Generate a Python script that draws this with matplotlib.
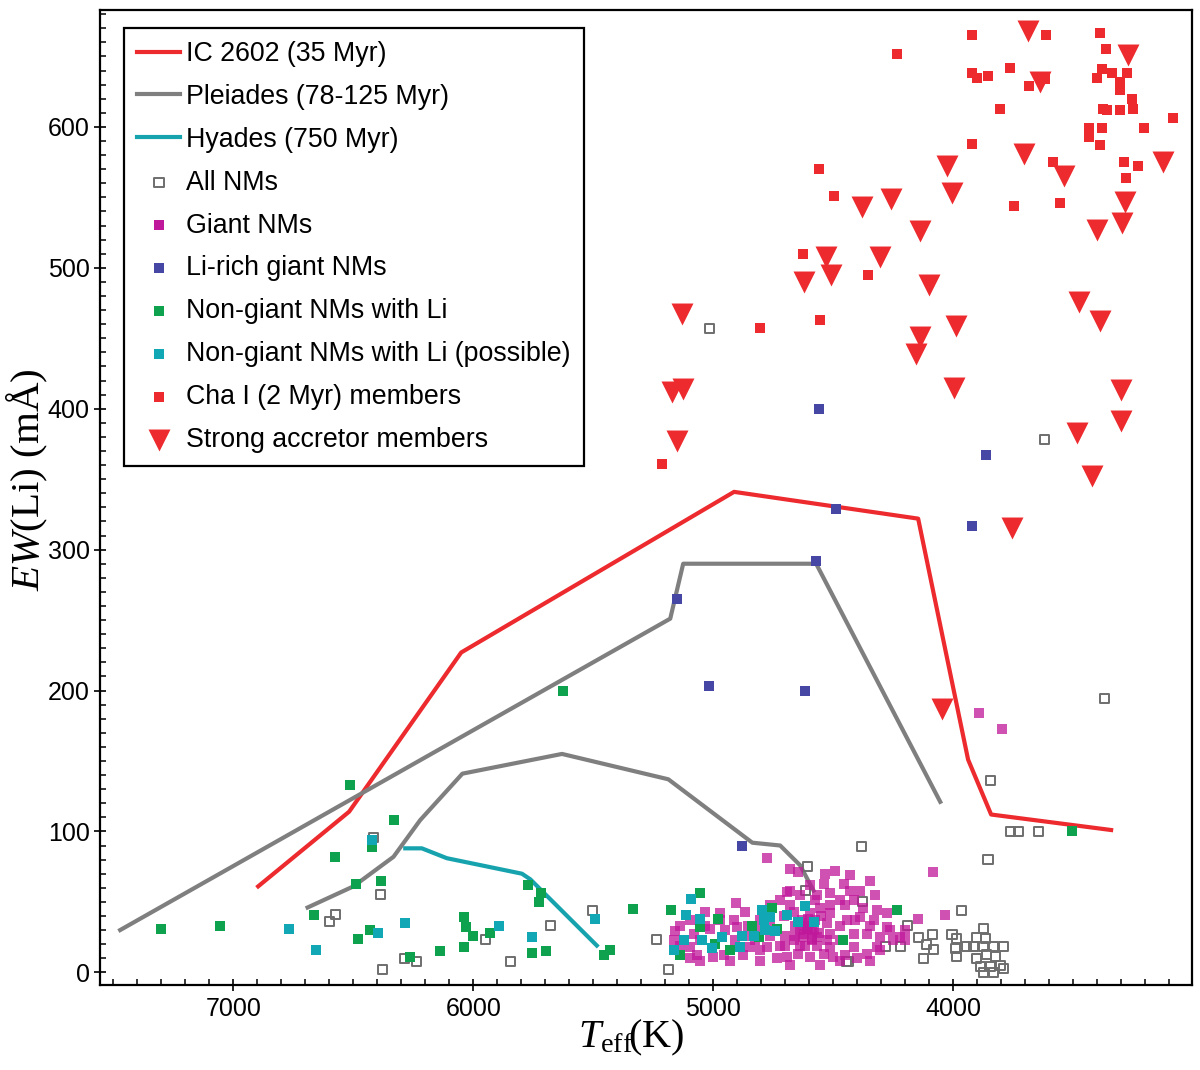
import numpy as np
import matplotlib
matplotlib.use("Agg")
import matplotlib.pyplot as plt
from matplotlib.ticker import MultipleLocator

plt.rcParams['font.family'] = ['Liberation Sans', 'DejaVu Sans']
plt.rcParams['mathtext.fontset'] = 'custom'
plt.rcParams['mathtext.rm'] = 'Liberation Serif'
plt.rcParams['mathtext.it'] = 'Liberation Serif:italic'

# cluster sequences: Teff (K), EW(Li) (mA)
ic2602_t = [6896, 6517, 6050, 4913, 4146, 3938, 3842, 3342]
ic2602_ew = [61, 114, 227, 341, 322, 151, 112, 101]

pleiades_up_t = [7471, 5179, 5125, 4571, 4054]
pleiades_up_ew = [30, 251, 290, 290, 121]
pleiades_lo_t = [6690, 6499, 6332, 6221, 6045, 5630, 5187, 4837, 4721, 4638, 4582]
pleiades_lo_ew = [46, 61, 82, 108, 141, 155, 137, 92, 90, 76, 58]

hyades_t = [6283, 6214, 6110, 5797, 5762, 5485]
hyades_ew = [88, 88, 81, 70, 66, 19]

# all NMs (open squares)
nm_t = [5017, 3621, 3370, 3846, 3762, 3729, 3646, 3855, 4383, 3964, 4607, 4614, 4443,
        4189, 4378, 4145, 4085, 4110, 4082, 4124, 4283, 4218, 4436, 4005, 3985, 3992,
        3985, 3943, 3874, 3901, 3867, 3915, 3874, 3832, 3790, 3901, 3860, 3825, 3888,
        3846, 3804, 3874, 3832, 3790, 6415, 6385, 6572, 6600, 5950, 5679, 5503, 6376,
        6287, 6237, 5846, 5235, 5186]
nm_ew = [457, 378, 194, 136, 100, 100, 100, 80, 89, 44, 75, 58, 8,
         33, 50, 25, 27, 20, 16, 10, 18, 18, 8, 27, 24, 17,
         11, 18, 31, 25, 24, 18, 18, 18, 18, 10, 13, 11, 4,
         4, 5, 0, 0, 3, 96, 55, 41, 36, 23, 33, 44, 2,
         10, 8, 8, 23, 2]

# giant NMs
giant_t = [4776, 4679, 4645, 4693, 4904, 5033, 4971, 4867, 4915, 4679, 4707, 4665, 5158,
           5082, 5012, 4950, 4901, 4853, 5165, 5096, 5068, 4999, 4957, 4874, 4846, 4776,
           4721, 4665, 4624, 4568, 4735, 4693, 4645, 4596, 4540, 4568, 4533, 4540, 4554,
           4526, 4596, 4526, 4346, 4086, 4457, 4429, 4512, 4471, 4415, 4374, 4318, 4276,
           4512, 4443, 4387, 4332, 4276, 4221, 4512, 4415, 4360, 4304, 4249, 4512, 4415,
           4360, 4318, 4499, 4401, 4145, 4033, 4617, 4587, 4637, 4604, 4658, 4575, 4700,
           4762, 4804, 4637, 4700, 4567, 4471, 4450, 4804, 4825, 5054, 5137, 3892, 3797,
           4610, 4620, 4600, 4590, 4630, 4580, 4560, 4550,
           5137, 5096, 5033, 4971, 4908, 4846, 4804, 4762, 5054, 4929, 4804, 5096,
           4679, 4637, 4596, 4492, 4429, 4387, 4325, 4721, 4762, 4471, 4408, 4346,
           4262, 4200, 4471, 4346, 4554, 4679, 4304, 4200, 4575, 4512, 4450, 4617,
           4587, 4658, 4604]
giant_ew = [81, 73, 71, 57, 49, 43, 42, 43, 37, 48, 40, 43, 29,
            27, 31, 30, 32, 33, 23, 18, 12, 11, 12, 12, 18, 18,
            19, 23, 25, 25, 10, 11, 13, 11, 13, 55, 70, 63, 46,
            35, 42, 23, 65, 71, 63, 58, 56, 51, 51, 46, 44, 42,
            42, 37, 39, 37, 32, 25, 27, 27, 27, 25, 23, 18, 18,
            13, 18, 11, 10, 38, 41, 33, 30, 30, 38, 33, 37, 26,
            26, 30, 19, 19, 19, 23, 12, 16, 23, 23, 19, 184, 173,
            31, 27, 35, 24, 37, 30, 28, 40,
            33, 37, 33, 37, 23, 26, 37, 33, 8, 8, 8, 10,
            58, 55, 62, 72, 69, 58, 55, 51, 48, 33, 37, 33,
            30, 23, 8, 8, 5, 5, 16, 30, 51, 48, 48, 19,
            23, 26, 31]

# Li-rich giant NMs
lirich_t = [4561, 3864, 3920, 4487, 5150, 4571, 5017, 4617, 4879]
lirich_ew = [400, 367, 317, 329, 265, 292, 203, 200, 90]

# non-giant NMs with Li
li_t = [7300, 7057, 6515, 6332, 6574, 6422, 6489, 6385, 6665, 6478, 6432, 6262, 6140,
        6040, 6029, 6001, 6040, 5929, 5772, 5718, 5725, 5753, 5697, 5454, 5429, 5625,
        5336, 3504, 4235, 4460, 5054, 5176, 4978, 5054, 4839, 4755, 4735, 4811, 4929,
        5137, 4992]
li_ew = [31, 33, 133, 108, 82, 89, 63, 65, 41, 24, 30, 11, 15,
         39, 32, 26, 18, 28, 62, 56, 50, 14, 15, 12, 16, 200,
         45, 100, 44, 23, 56, 44, 38, 32, 33, 46, 31, 25, 16,
         12, 20]

# non-giant NMs with Li (possible)
lip_t = [6422, 6767, 6655, 6395, 6283, 5892, 5753, 5492, 5092, 5112, 5054, 5120, 5165,
         5047, 5005, 4964, 4880, 4832, 4887, 4797, 4790, 4762, 4783, 4742, 4693, 4645,
         4617, 4582]
lip_ew = [94, 31, 16, 28, 35, 33, 25, 38, 52, 41, 38, 23, 16,
          23, 17, 25, 26, 26, 18, 44, 37, 39, 30, 29, 41, 36,
          47, 36]

# Cha I members
cha_t = [4235, 3920, 3612, 3387, 3362, 3762, 3920, 3901, 3857, 3686, 3617, 3380, 3401,
         3339, 3276, 3304, 3304, 3255, 3249, 3374, 3360, 3307, 3807, 3085, 3207, 3436,
         3436, 3380, 3390, 3920, 3585, 3288, 3232, 3279, 3745, 3557, 4357, 4561, 4496,
         4626, 4553, 4803, 5212]
cha_ew = [652, 665, 665, 667, 655, 642, 638, 635, 636, 629, 634, 641, 635,
          638, 638, 632, 626, 620, 613, 613, 612, 612, 613, 606, 599, 599,
          593, 599, 587, 588, 575, 575, 572, 564, 544, 546, 495, 570, 551,
          510, 463, 457, 361]

# strong accretor members
acc_t = [3689, 3272, 3640, 3707, 4026, 3540, 3124, 4005, 4260, 4381, 3283, 3297, 3401,
         4137, 4304, 4100, 3474, 4528, 4510, 4621, 3988, 4137, 4154, 3996, 5130, 5172,
         5124, 5151, 3390, 3300, 3300, 3485, 3420, 3755, 4045]
acc_ew = [668, 651, 632, 581, 572, 565, 575, 553, 549, 543, 547, 532, 527,
          526, 508, 488, 476, 508, 495, 490, 459, 451, 439, 415, 467, 412,
          414, 377, 462, 413, 391, 383, 352, 315, 187]

red = '#ED2A2E'
fig = plt.figure(figsize=(12, 10.7), dpi=100)
ax = fig.add_axes([100 / 1200, 85 / 1070, 1092 / 1200, 975 / 1070])

ax.plot(ic2602_t, ic2602_ew, color=red, lw=3, zorder=2, label='IC 2602 (35 Myr)')
ax.plot(pleiades_up_t, pleiades_up_ew, color='#7F7F7F', lw=3, zorder=2,
        label='Pleiades (78-125 Myr)')
ax.plot(pleiades_lo_t, pleiades_lo_ew, color='#7F7F7F', lw=3, zorder=2)
ax.plot(hyades_t, hyades_ew, color='#16A3AE', lw=3, zorder=2, label='Hyades (750 Myr)')

ms = 52
ax.scatter(nm_t, nm_ew, s=42, marker='s', facecolors='none', edgecolors='#6E6E6E',
           linewidths=1.4, zorder=3, label='All NMs')
ax.scatter(giant_t, giant_ew, s=ms, marker='s', color='#C0189A', alpha=0.75,
           linewidths=0, zorder=4, label='Giant NMs')
ax.scatter(lirich_t, lirich_ew, s=ms, marker='s', color='#4646A4', linewidths=0,
           zorder=5, label='Li-rich giant NMs')
ax.scatter(li_t, li_ew, s=ms, marker='s', color='#0FA24E', linewidths=0,
           zorder=5, label='Non-giant NMs with Li')
ax.scatter(lip_t, lip_ew, s=ms, marker='s', color='#12A7B5', linewidths=0,
           zorder=5, label='Non-giant NMs with Li (possible)')
ax.scatter(cha_t, cha_ew, s=ms, marker='s', color=red, linewidths=0,
           zorder=6, label='Cha I (2 Myr) members')
ax.scatter(acc_t, acc_ew, s=250, marker='v', color=red, linewidths=0,
           zorder=6, label='Strong accretor members')

ax.set_xlim(7555, 3005)
ax.set_ylim(-9, 683)
ax.xaxis.set_major_locator(MultipleLocator(1000))
ax.xaxis.set_minor_locator(MultipleLocator(100))
ax.yaxis.set_major_locator(MultipleLocator(100))
ax.yaxis.set_minor_locator(MultipleLocator(10))
ax.tick_params(which='major', direction='inout', length=9, width=1.2, labelsize=18,
               top=False, right=False)
ax.tick_params(which='minor', direction='in', length=4, width=1.1, top=False, right=False)
ax.tick_params(axis='x', which='major', pad=4)
ax.tick_params(axis='y', which='major', pad=3)
for sp in ax.spines.values():
    sp.set_linewidth(1.6)

ax.set_xlabel(r'$T_{\rm eff}\!\!\!$ (K)', fontsize=29, family='Liberation Serif')
ax.xaxis.set_label_coords(0.486, -0.034)
ax.set_ylabel(r'$\mathit{EW}$(Li) (mÅ)', fontsize=29.5, family='Liberation Serif')
ax.yaxis.set_label_coords(-0.046, 0.518)

leg = ax.legend(loc='upper left', bbox_to_anchor=(0.022, 0.982), borderaxespad=0,
                fontsize=19.3, frameon=True, fancybox=False, framealpha=1,
                edgecolor='black', handlelength=1.6, handletextpad=0.2,
                labelspacing=0.63, borderpad=0.5, markerscale=1)
leg.get_frame().set_linewidth(1.6)
for h in leg.legend_handles[4:9]:
    h.set_alpha(1)
    h.set_sizes([55])
leg.legend_handles[3].set_sizes([45])
leg.legend_handles[9].set_sizes([250])

fig.savefig('out.png', dpi=100)
